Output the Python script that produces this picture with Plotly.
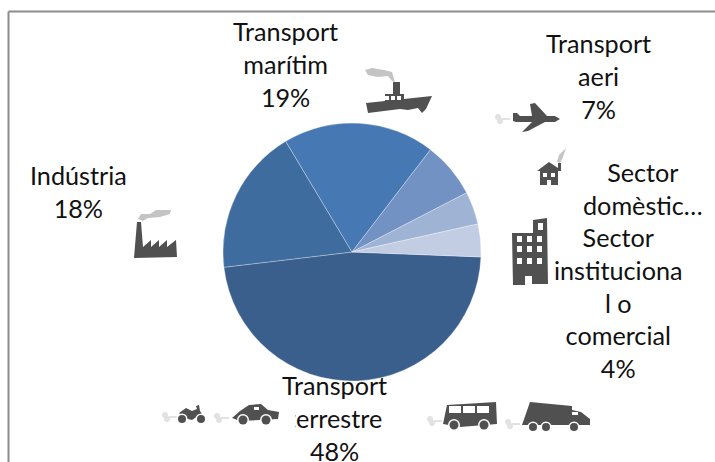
import plotly.graph_objects as go

W, H = 715, 462

categories = ["Transport terrestre", "Indústria", "Transport marítim", "Transport aeri",
              "Sector domèstic", "Sector institucional o comercial"]
values = [47.5, 18.3, 19.0, 7.0, 4.1, 4.1]
colors = ["#3A5F8D", "#3F6C9F", "#4678B3", "#7192C2", "#9FB3D5", "#C2CDE3"]

label_texts = ["Transport<br>terrestre<br>48%", "Indústria<br>18%", "Transport<br>marítim<br>19%",
               "Transport<br>aeri<br>7%", "Sector<br>domèstic…",
               "Sector<br>instituciona<br>l o<br>comercial<br>4%"]
label_x = [334, 78, 285, 598, 643, 618]
label_y = [417.5, 191, 64, 76, 188, 302]

DARK = "#505050"
SMOKE = "#C4C4C4"
PALE = "#E2E2E2"


def px(x, y):
    return f"{x / W:.5f},{1 - y / H:.5f}"


def path(points, close=True):
    s = "M" + " L".join(px(x, y) for x, y in points)
    return s + (" Z" if close else "")


def poly(points, color=DARK):
    return dict(type="path", xref="paper", yref="paper", path=path(points),
                fillcolor=color, line=dict(width=0), layer="above")


def rect(x0, y0, x1, y1, color=DARK):
    return poly([(x0, y0), (x1, y0), (x1, y1), (x0, y1)], color)


def blob(x0, y0, x1, y1, color=DARK):
    return dict(type="circle", xref="paper", yref="paper", x0=x0 / W, x1=x1 / W,
                y0=1 - y1 / H, y1=1 - y0 / H, fillcolor=color, line=dict(width=0), layer="above")


def wheel(cx, cy, r):
    return [blob(cx - r - 1.5, cy - r - 1.5, cx + r + 1.5, cy + r + 1.5, "white"), blob(cx - r, cy - r, cx + r, cy + r)]


def exhaust(x, y):
    return [blob(x, y - 5, x + 6, y + 1, PALE), blob(x + 2, y - 1, x + 8, y + 5, PALE), rect(x + 7, y - 1, x + 15, y + 1, PALE)]


shapes = [dict(type="line", xref="paper", yref="paper", x0=8.5 / W, x1=1, y0=1 - 11.5 / H, y1=1 - 11.5 / H,
               line=dict(color="#8C8C8C", width=2)),
          dict(type="line", xref="paper", yref="paper", x0=8.5 / W, x1=8.5 / W, y0=0, y1=1 - 11.5 / H,
               line=dict(color="#8C8C8C", width=2))]

# ship
shapes += [poly([(365, 70), (372, 68), (384, 70), (392, 72), (395, 82), (392, 81), (388, 76), (378, 77), (368, 75)], SMOKE),
           rect(393, 82, 400, 94),
           poly([(385, 94), (404, 94), (404, 99), (432, 96), (426, 109), (422, 113), (418, 108), (408, 110), (400, 109),
                 (368, 113), (366, 103), (385, 101)])]
shapes += [rect(x, 96, x + 4, 100, "white") for x in (385, 391, 397)]
# plane
shapes += exhaust(495, 119)
shapes += [poly([(513, 113), (517, 113), (520, 116), (532, 116), (530, 104), (535, 103), (547, 116), (555, 116), (560, 119),
                 (555, 122), (545, 122), (528, 131), (522, 132), (532, 122), (516, 122), (513, 121)])]
# house
shapes += [poly([(557, 162), (559, 155), (566, 148), (563, 157), (560, 163)], SMOKE),
           poly([(537, 171), (549, 162), (558, 168), (558, 163), (561, 163), (561, 171), (558, 171), (558, 185), (540, 185), (540, 171)]),
           rect(543, 173, 547, 177, "white"), rect(551, 173, 555, 177, "white"), rect(547, 180, 551, 185, "white")]
# building
shapes += [poly([(512, 233), (533, 233), (533, 220), (547, 218), (548, 284), (532, 284), (532, 276), (525, 276), (525, 285), (513, 285)])]
shapes += [rect(x, y, x + 5, y + 6, "white") for x in (517, 527, 537) for y in (236, 246, 258)]
shapes += [rect(538, 223, 543, 230, "white")]
# factory
shapes += [poly([(138, 219), (141, 214), (150, 214), (156, 210), (171, 210), (170, 214), (160, 217), (148, 218), (143, 221)], SMOKE),
           poly([(137, 222), (141, 222), (143, 247), (151, 240), (151, 247), (159, 240), (159, 247), (167, 240), (167, 247), (176, 240),
                 (177, 257), (134, 258)])]
# motorcycle
shapes += exhaust(162, 417)
shapes += [poly([(179, 413), (186, 408), (192, 411), (197, 409), (196, 406), (199, 405), (200, 411), (204, 417), (198, 416), (192, 420), (184, 418)])]
shapes += wheel(182, 419, 4) + wheel(201, 419, 4)
# car
shapes += exhaust(214, 418)
shapes += [poly([(232, 418), (240, 411), (249, 405), (261, 404), (268, 410), (279, 412), (278, 419), (260, 420), (240, 421)])]
shapes += [rect(254, 407, 259, 410, "white")]
shapes += wheel(243, 420, 4.5) + wheel(266, 420, 4.5)
# bus
shapes += exhaust(427, 421)
shapes += [poly([(447, 405), (496, 402), (497, 424), (460, 427), (443, 424)])]
shapes += [rect(x, 406, x + 12, 413, "white") for x in (449, 463, 477)]
shapes += wheel(454, 425, 4.5) + wheel(484, 425, 4.5)
# truck
shapes += exhaust(505, 424)
shapes += [poly([(530, 402), (572, 406), (572, 410), (581, 412), (590, 419), (590, 425), (522, 425)])]
shapes += [rect(572, 412, 578, 415, "white")]
shapes += wheel(533, 427, 4) + wheel(546, 427, 4) + wheel(574, 427, 4)

annotations = [dict(text=t, x=x / W, y=1 - y / H, xref="paper", yref="paper", xanchor="center", yanchor="middle",
                    showarrow=False, align="center", font=dict(family="Lato", size=25.2, color="#111111"))
               for t, x, y in zip(label_texts, label_x, label_y)]
# white edge of the car picture that covers the first letter of "terrestre"
annotations.append(dict(text=" ", x=287.5 / W, y=1 - 418 / H, xref="paper", yref="paper", xanchor="center", yanchor="middle",
                        showarrow=False, bgcolor="white", width=12, height=26, font=dict(size=10)))

fig = go.Figure(go.Pie(labels=categories, values=values, sort=False, direction="clockwise", rotation=92.2,
                       textinfo="none", hoverinfo="label+percent",
                       marker=dict(colors=colors, line=dict(color="rgba(255,255,255,0.4)", width=0.75)),
                       domain=dict(x=[223 / W, 481 / W], y=[1 - 381 / H, 1 - 123 / H]),
                       showlegend=False))
fig.update_layout(width=W, height=H, margin=dict(l=0, r=0, t=0, b=0), paper_bgcolor="white",
                  shapes=shapes, annotations=annotations)
fig.write_html("out.html", post_script="document.body.style.margin='0';", config=dict(displayModeBar=False))
